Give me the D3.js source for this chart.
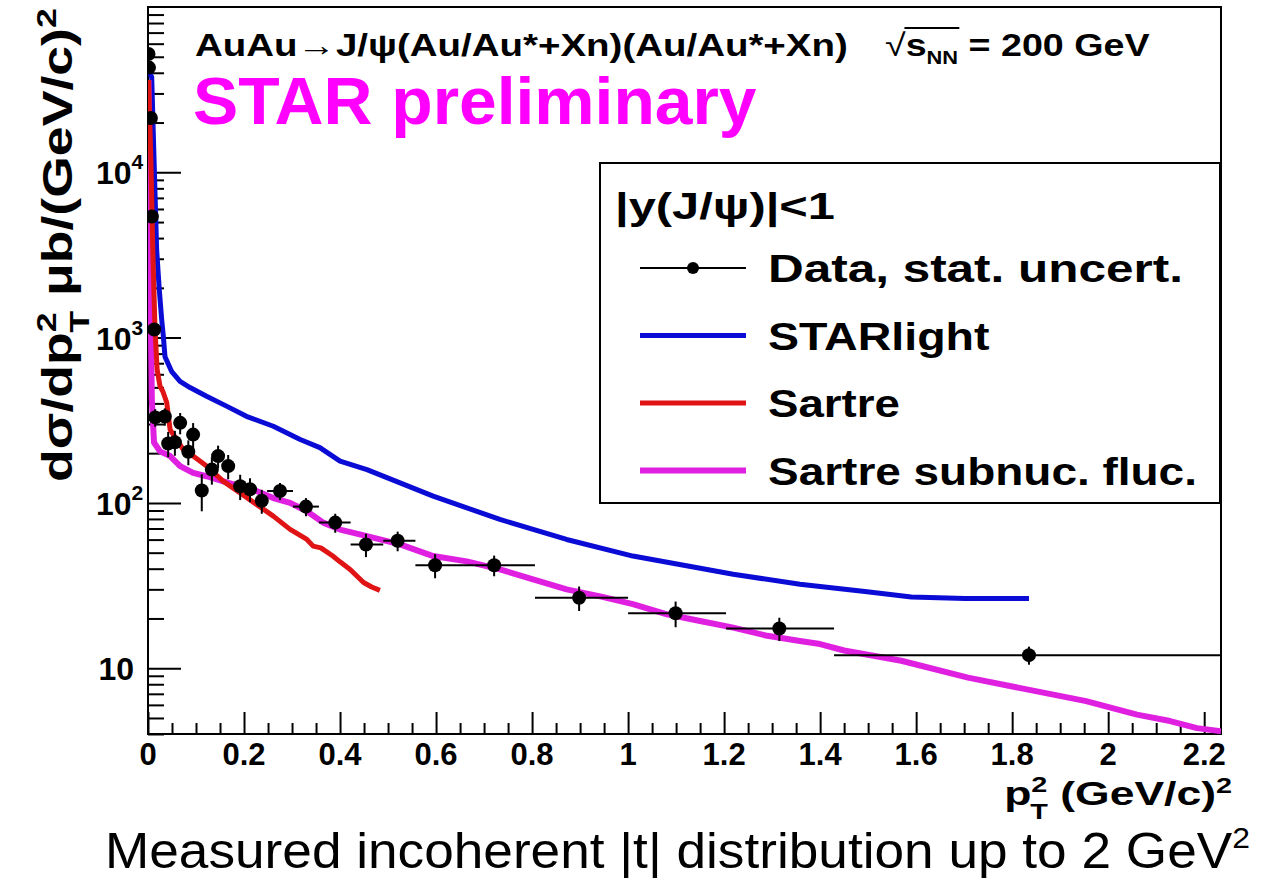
<!DOCTYPE html>
<html>
<head>
<meta charset="utf-8">
<script src="https://cdn.jsdelivr.net/npm/d3@7"></script>
<style>
  body { margin: 0; background: #fff; }
  svg { display: block; }
  text { font-family: "Liberation Sans", Arial, sans-serif; }
</style>
</head>
<body>
<svg id="chart" width="1276" height="881"></svg>
<script>
const width = 1276, height = 881;
const plotLeft = 148, plotRight = 1221, plotTop = 7, plotBottom = 734;

// measured points: pT^2 (GeV/c)^2, dsigma/dpT^2 (mub/(GeV/c)^2), stat. error, bin edges
const dataPt2   = [0.001, 0.002, 0.006, 0.008, 0.013, 0.015, 0.035, 0.042, 0.056, 0.067, 0.084, 0.094, 0.112, 0.133, 0.146, 0.167, 0.192, 0.2125, 0.237, 0.275, 0.329, 0.390, 0.454, 0.520, 0.598, 0.721, 0.898, 1.099, 1.315, 1.835];
const dataSigma = [52000, 43000, 21300, 5400, 1120, 329, 333, 229, 233, 305, 204, 259, 119, 159, 192, 167, 126, 121, 103, 118, 95, 76, 56, 59, 42, 42, 26.7, 21.5, 17.4, 12.0];
const dataErr   = [2500, 2000, 1000, 300, 80, 40, 40, 40, 40, 45, 35, 45, 30, 30, 30, 28, 22, 20, 17, 14, 12, 10, 9, 8, 7, 6, 4.5, 3.8, 2.8, 1.5];
const dataBinLo = [0.0, 0.0015, 0.004, 0.007, 0.010, 0.012, 0.030, 0.036, 0.050, 0.062, 0.078, 0.090, 0.104, 0.125, 0.140, 0.160, 0.182, 0.202, 0.225, 0.248, 0.302, 0.356, 0.422, 0.490, 0.557, 0.680, 0.806, 1.0, 1.204, 1.429];
const dataBinHi = [0.002, 0.0025, 0.008, 0.010, 0.016, 0.018, 0.040, 0.048, 0.062, 0.072, 0.090, 0.100, 0.120, 0.140, 0.155, 0.175, 0.202, 0.225, 0.250, 0.302, 0.356, 0.422, 0.490, 0.557, 0.680, 0.806, 1.0, 1.204, 1.429, 2.235];

// model curves
const starlightPt2   = [0.002, 0.0077, 0.011, 0.018, 0.0235, 0.0285, 0.032, 0.0354, 0.049, 0.0667, 0.0875, 0.122, 0.1635, 0.205, 0.261, 0.317, 0.358, 0.400, 0.456, 0.594, 0.733, 0.872, 1.010, 1.219, 1.358, 1.498, 1.590, 1.702, 1.835];
const starlightSigma = [40000, 37800, 17300, 3400, 1950, 1285, 1014, 767, 625, 544, 499, 442, 385, 334, 291, 242, 216, 179, 159, 110, 79.4, 60.1, 47.7, 37.0, 32.2, 29.0, 27.0, 26.4, 26.4];

const sartrePt2   = [0.001, 0.006, 0.010, 0.0146, 0.019, 0.025, 0.031, 0.039, 0.046, 0.0735, 0.094, 0.122, 0.157, 0.192, 0.226, 0.261, 0.296, 0.331, 0.344, 0.360, 0.385, 0.400, 0.421, 0.449, 0.466, 0.483];
const sartreSigma = [36200, 11900, 3400, 1117, 641, 508, 472, 405, 278, 210, 192, 167, 135, 115, 98, 83.2, 69.2, 60.1, 54.8, 53.5, 47.7, 44.0, 39.6, 33.0, 31.0, 29.6];

const subnucPt2   = [0.001, 0.004, 0.006, 0.008, 0.0125, 0.025, 0.046, 0.067, 0.094, 0.122, 0.157, 0.192, 0.226, 0.261, 0.296, 0.331, 0.365, 0.400, 0.456, 0.525, 0.594, 0.664, 0.733, 0.802, 0.872, 0.942, 1.010, 1.081, 1.150, 1.219, 1.290, 1.358, 1.400, 1.450, 1.569, 1.708, 1.849, 1.954, 2.060, 2.129, 2.185, 2.235];
const subnucSigma = [36200, 6820, 1117, 422, 232, 205, 192, 167, 152, 145, 135, 126, 118, 107, 100, 89, 76, 69, 63, 56.1, 47.7, 44.3, 39.6, 34.5, 30.0, 27.2, 24.4, 21.2, 19.3, 17.6, 15.7, 14.6, 14.0, 12.8, 11.1, 8.77, 7.27, 6.32, 5.24, 4.79, 4.34, 4.16];

const xTicks = [0, 0.2, 0.4, 0.6, 0.8, 1, 1.2, 1.4, 1.6, 1.8, 2, 2.2];
const xTickLabels = ["0", "0.2", "0.4", "0.6", "0.8", "1", "1.2", "1.4", "1.6", "1.8", "2", "2.2"];
const yTicks = [10, 100, 1000, 10000];
const yTickExps = ["", "2", "3", "4"];

const legendNames = ["Data, stat. uncert.", "STARlight", "Sartre", "Sartre subnuc. fluc."];
const legendColors = ["#000000", "#0b0bd6", "#e01414", "#e020e0"];

const svg = d3.select("#chart");
svg.append("rect").attr("width", width).attr("height", height).attr("fill", "#fff");

const x = d3.scaleLinear().domain([0, 2.235]).range([plotLeft, plotRight]);
const y = d3.scaleLog().domain([4, 1e5]).range([plotBottom, plotTop]);

// squeeze/stretch a text horizontally to a target width
function fitWidth(sel, target) {
  const w = sel.node().getBBox().width;
  sel.attr("transform", `scale(${target / w},1)`);
}

svg.append("clipPath").attr("id", "plotclip")
  .append("rect")
  .attr("x", plotLeft).attr("y", plotTop)
  .attr("width", plotRight - plotLeft).attr("height", plotBottom - plotTop);

// ticks (ROOT style: inside the frame)
const yMinor = [];
[1, 10, 100, 1000, 10000].forEach(d => {
  for (let k = 2; k <= 9; k++) {
    const v = k * d;
    if (v >= 4 && v <= 1e5) yMinor.push(v);
  }
});
svg.append("g")
  .attr("transform", `translate(${plotLeft},0)`)
  .call(d3.axisRight(y).tickValues(yTicks).tickSize(33).tickFormat(""))
  .call(g => g.select(".domain").remove())
  .call(g => g.selectAll(".tick line").attr("stroke-width", 2));
svg.append("g")
  .attr("transform", `translate(${plotLeft},0)`)
  .call(d3.axisRight(y).tickValues(yMinor).tickSize(16).tickFormat(""))
  .call(g => g.select(".domain").remove())
  .call(g => g.selectAll(".tick line").attr("stroke-width", 2));

const xMinor = d3.range(0.05, 2.236, 0.05).filter(v => Math.abs(v / 0.2 - Math.round(v / 0.2)) > 0.01);
svg.append("g")
  .attr("transform", `translate(0,${plotBottom})`)
  .call(d3.axisTop(x).tickValues(xTicks).tickSize(22).tickFormat(""))
  .call(g => g.select(".domain").remove())
  .call(g => g.selectAll(".tick line").attr("stroke-width", 2));
svg.append("g")
  .attr("transform", `translate(0,${plotBottom})`)
  .call(d3.axisTop(x).tickValues(xMinor).tickSize(11).tickFormat(""))
  .call(g => g.select(".domain").remove())
  .call(g => g.selectAll(".tick line").attr("stroke-width", 2));

// frame
svg.append("rect")
  .attr("x", plotLeft).attr("y", plotTop)
  .attr("width", plotRight - plotLeft).attr("height", plotBottom - plotTop)
  .attr("fill", "none").attr("stroke", "#000").attr("stroke-width", 2);

// x tick labels
svg.append("g").selectAll("text")
  .data(xTicks)
  .join("text")
  .attr("x", d => x(d))
  .attr("y", 765)
  .attr("text-anchor", "middle")
  .attr("font-weight", "bold")
  .attr("font-size", 31)
  .text((d, i) => xTickLabels[i]);

// y tick labels: 10, 10^2, ...
yTicks.forEach((v, i) => {
  const t = svg.append("text")
    .attr("y", y(v) + 12)
    .attr("font-weight", "bold")
    .attr("font-size", 32);
  if (yTickExps[i] === "") {
    t.attr("x", 134).attr("text-anchor", "end").text("10");
  } else {
    t.attr("x", 96);
    t.append("tspan").text("10");
    t.append("tspan").attr("dy", -15).attr("font-size", 21).text(yTickExps[i]);
  }
});

// model curves
const line = d3.line().x(d => x(d[0])).y(d => y(d[1]));
const curves = [
  { xs: starlightPt2, ys: starlightSigma, color: legendColors[1], w: 5 },
  { xs: subnucPt2, ys: subnucSigma, color: legendColors[3], w: 6 },
  { xs: sartrePt2, ys: sartreSigma, color: legendColors[2], w: 5 }
];
const curveG = svg.append("g").attr("clip-path", "url(#plotclip)");
curves.forEach(c => {
  curveG.append("path")
    .attr("fill", "none")
    .attr("stroke", c.color)
    .attr("stroke-width", c.w)
    .attr("stroke-linejoin", "round")
    .attr("d", line(d3.zip(c.xs, c.ys)));
});

// data with error bars
const pts = dataPt2.map((v, i) => ({ x: v, y: dataSigma[i], e: dataErr[i], lo: dataBinLo[i], hi: dataBinHi[i] }));
const dataG = svg.append("g").attr("clip-path", "url(#plotclip)");
dataG.selectAll(".hbar").data(pts).join("line")
  .attr("x1", d => x(d.lo)).attr("x2", d => x(d.hi))
  .attr("y1", d => y(d.y)).attr("y2", d => y(d.y))
  .attr("stroke", "#000").attr("stroke-width", 2);
dataG.selectAll(".vbar").data(pts).join("line")
  .attr("x1", d => x(d.x)).attr("x2", d => x(d.x))
  .attr("y1", d => y(d.y - d.e)).attr("y2", d => y(d.y + d.e))
  .attr("stroke", "#000").attr("stroke-width", 2);
dataG.selectAll("circle").data(pts).join("circle")
  .attr("cx", d => x(d.x)).attr("cy", d => y(d.y))
  .attr("r", 7).attr("fill", "#000");

// header texts
const t1 = svg.append("g").attr("transform", "translate(195,56)")
  .append("text").attr("font-weight", "bold").attr("font-size", 31)
  .text("AuAu\u2192J/\u03c8(Au/Au*+Xn)(Au/Au*+Xn)");
fitWidth(t1, 653);

const sq = svg.append("g").attr("transform", "translate(885,56)");
const sqText = sq.append("text").attr("font-weight", "bold").attr("font-size", 31);
sqText.append("tspan").attr("font-weight", "normal").text("\u221a");
sqText.append("tspan").text("s");
sqText.append("tspan").attr("dy", 8).attr("font-size", 18).text("NN");
sqText.append("tspan").attr("dy", -8).text(" = 200 GeV");
fitWidth(sqText, 265);
{
  const node = sqText.node();
  const x0 = node.getStartPositionOfChar(1).x;
  const x1 = node.getEndPositionOfChar(3).x;
  sq.append("line")
    .attr("x1", x0 - 1).attr("x2", x1 + 1)
    .attr("y1", -28).attr("y2", -28)
    .attr("transform", sqText.attr("transform"))
    .attr("stroke", "#000").attr("stroke-width", 2);
}

const t2 = svg.append("g").attr("transform", "translate(193,124)")
  .append("text").attr("font-weight", "bold").attr("font-size", 66)
  .attr("fill", "#ff00ff")
  .text("STAR preliminary");
fitWidth(t2, 564);

// y axis title
const yt = svg.append("g").attr("transform", "translate(72,482) rotate(-90)")
  .append("text").attr("font-weight", "bold").attr("font-size", 42);
yt.append("tspan").text("d\u03c3/dp");
yt.append("tspan").attr("dy", -16).attr("font-size", 28).text("2");
yt.append("tspan").attr("dx", -16).attr("dy", 33).attr("font-size", 28).text("T");
yt.append("tspan").attr("dy", -17).text(" \u03bcb/(GeV/c)");
yt.append("tspan").attr("dy", -16).attr("font-size", 28).text("2");
fitWidth(yt, 474);

// x axis title
const xt = svg.append("g").attr("transform", "translate(1232,805)")
  .append("text").attr("font-weight", "bold").attr("font-size", 34).attr("text-anchor", "end");
xt.append("tspan").text("p");
xt.append("tspan").attr("dy", -13).attr("font-size", 22).text("2");
xt.append("tspan").attr("dx", -13).attr("dy", 27).attr("font-size", 22).text("T");
xt.append("tspan").attr("dy", -14).text(" (GeV/c)");
xt.append("tspan").attr("dy", -12).attr("font-size", 22).text("2");
fitWidth(xt, 228);

// legend
const legend = svg.append("g").attr("transform", "translate(600,163)");
legend.append("rect")
  .attr("width", 620).attr("height", 340)
  .attr("fill", "#fff").attr("stroke", "#000").attr("stroke-width", 2);
const lh = legend.append("g").attr("transform", "translate(15,56)")
  .append("text").attr("font-weight", "bold").attr("font-size", 36)
  .text("|y(J/\u03c8)|<1");
fitWidth(lh, 220);
const legendWidths = [415, 222, 132, 429];
legendNames.forEach((n, i) => {
  const item = legend.append("g").attr("transform", `translate(0,${105 + i * 67.5})`);
  item.append("line")
    .attr("x1", 40).attr("x2", 146)
    .attr("stroke", legendColors[i])
    .attr("stroke-width", i === 0 ? 2 : (i === 3 ? 6 : 5));
  if (i === 0) item.append("circle").attr("cx", 93).attr("r", 6).attr("fill", "#000");
  const t = item.append("g").attr("transform", "translate(168,14)")
    .append("text").attr("font-weight", "bold").attr("font-size", 38).text(n);
  fitWidth(t, legendWidths[i]);
});

// caption below the plot
const cap = svg.append("g").attr("transform", "translate(105,868)")
  .append("text").attr("font-size", 50);
cap.append("tspan").text("Measured incoherent |t| distribution up to 2 GeV");
cap.append("tspan").attr("dy", -20).attr("font-size", 30).text("2");
fitWidth(cap, 1145);
</script>
</body>
</html>
